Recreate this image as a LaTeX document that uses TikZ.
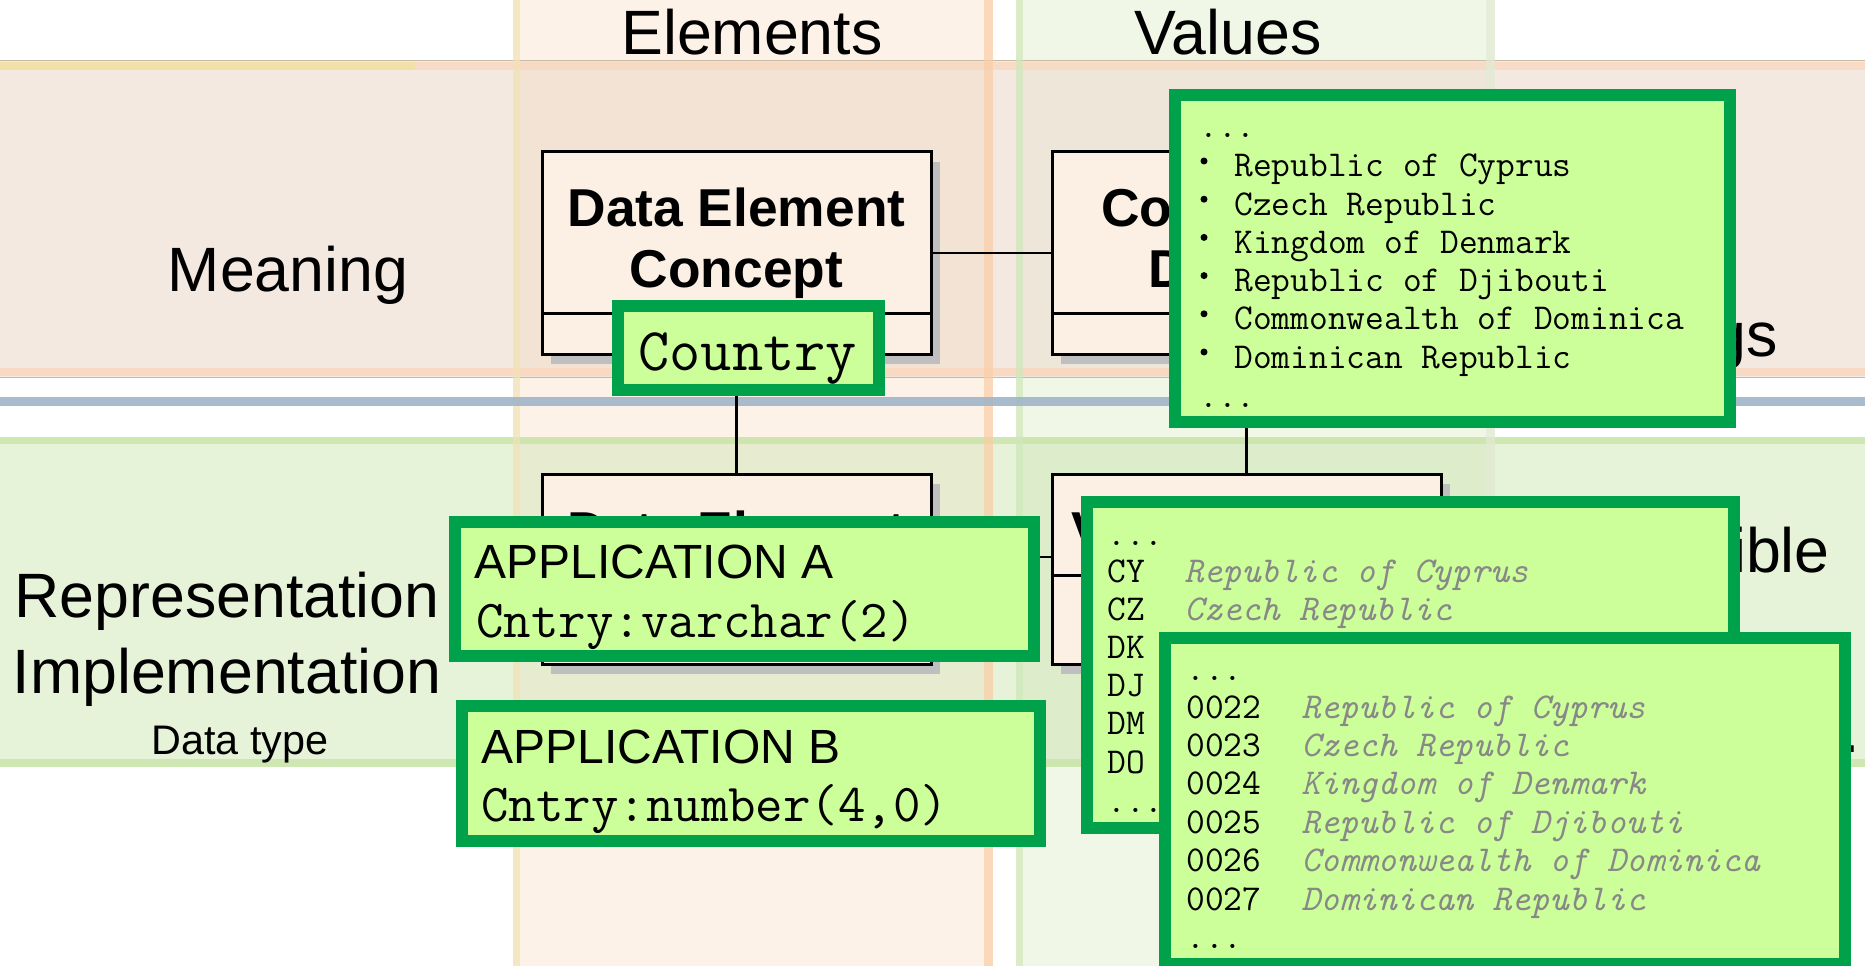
\documentclass[tikz,border=0pt]{standalone}
\usepackage{fontspec}
\setmainfont{Liberation Sans}
\usetikzlibrary{shadows}
\definecolor{meanband}{HTML}{F4E9E0}
\definecolor{repband}{HTML}{E7F3D8}
\definecolor{elemcol}{HTML}{FDF2E7}
\definecolor{valcol}{HTML}{F0F7E6}
\definecolor{elemmean}{HTML}{F2E3D5}
\definecolor{elemrep}{HTML}{E7EBD0}
\definecolor{valmean}{HTML}{EEE7D9}
\definecolor{valrep}{HTML}{DDEDCB}
\definecolor{umlfill}{HTML}{FBF0E3}
\definecolor{gborder}{HTML}{00A14B}
\definecolor{gfill}{HTML}{CCFF99}
\definecolor{shadowgray}{HTML}{BFBFBF}
\definecolor{namegray}{HTML}{888888}
\definecolor{bandline}{HTML}{C8BBA5}
\definecolor{peachstripe}{HTML}{F9D8C0}
\definecolor{yellowstripe}{HTML}{F0E2A0}
\definecolor{greenstripe}{HTML}{C9E4A9}
\definecolor{elemleft}{HTML}{F1E3B4}
\definecolor{elemright}{HTML}{FBCEA6}
\definecolor{valleft}{HTML}{D0E8BA}
\definecolor{valright}{HTML}{E2EBD6}
\definecolor{blueline}{HTML}{A0B5C9}
\begin{document}
\begin{tikzpicture}[x=0.75pt,y=-0.75pt,
  lbl/.style={inner sep=0pt, font=\fontsize{47}{56}\selectfont},
  smalllbl/.style={inner sep=0pt, font=\fontsize{31}{37}\selectfont},
  umlt/.style={inner sep=0pt, font=\fontsize{40}{48}\selectfont\bfseries},
  umlbox/.style={draw=black, line width=2.25pt, fill=umlfill, inner sep=0pt,
    minimum width=291.75pt,
    drop shadow={shadow xshift=6.75pt, shadow yshift=-7.5pt, fill=shadowgray, opacity=1}},
  conn/.style={draw=black, line width=1.6pt},
  gbox/.style={draw=gborder, fill=gfill, line width=9pt, inner sep=0pt},
  apph/.style={inner sep=0pt, anchor=base west, font=\fontsize{36}{43}\selectfont},
  appm/.style={inner sep=0pt, anchor=base west, font=\fontsize{40}{48}\ttfamily},
  ctry/.style={inner sep=0pt, anchor=base west, font=\fontsize{45.5}{54}\ttfamily},
  listt/.style={inner sep=0pt, anchor=base west, font=\fontsize{27.3}{33}\ttfamily},
  listn/.style={listt, text=namegray, font=\fontsize{27.3}{33}\ttfamily\itshape}
]
\useasboundingbox (0,0) rectangle (1865,966);
\fill[white] (0,0) rectangle (1865,966);
% bands and columns
\fill[meanband] (0,61) rectangle (1865,377);
\fill[repband] (0,437) rectangle (1865,767);
\fill[elemcol] (513,0) rectangle (993,966);
\fill[valcol] (1016,0) rectangle (1495,966);
\fill[elemmean] (513,61) rectangle (993,377);
\fill[elemrep] (513,437) rectangle (993,767);
\fill[valmean] (1016,61) rectangle (1495,377);
\fill[valrep] (1016,437) rectangle (1495,767);
% stripes
\fill[peachstripe, opacity=0.8] (0,62) rectangle (1865,70);
\fill[yellowstripe, opacity=0.8] (0,62) rectangle (415,70);
\draw[bandline, line width=0.75pt] (0,61) -- (1865,61);
\fill[peachstripe, opacity=0.9] (0,368) rectangle (1865,376);
\draw[bandline, line width=0.75pt] (0,377) -- (1865,377);
\fill[greenstripe, opacity=0.8] (0,437) rectangle (1865,444);
\fill[greenstripe, opacity=0.8] (0,759) rectangle (1865,767);
\fill[elemleft, opacity=0.7] (513,0) rectangle (520,966);
\fill[elemright, opacity=0.7] (984,0) rectangle (993,966);
\fill[valleft, opacity=0.7] (1016,0) rectangle (1023,966);
\fill[valright, opacity=0.7] (1486,0) rectangle (1495,966);
\fill[blueline, opacity=0.9] (0,397) rectangle (1865,406);
% labels
\node[lbl, anchor=base] (elements) at (752,55) {Elements};
\node[lbl, anchor=base] (values) at (1228,55) {Values};
\node[lbl, anchor=base] (meaning) at (288,291) {Meaning};
\node[lbl, anchor=base east] (gs) at (1778,356) {gs};
\node[lbl, anchor=base east] (ible) at (1830,572) {ible};
\node[lbl, anchor=base west] (dot) at (1842,752) {.};
\node[lbl, anchor=base] (repr) at (227,617) {Representation};
\node[lbl, anchor=base] (impl) at (227,693) {Implementation};
\node[smalllbl, anchor=base] (dtype) at (240,754) {Data type};
% UML boxes
\node[umlbox, minimum height=151.5pt] (dec) at (736.5,253) {};
\node[umlbox, minimum height=151.5pt] (cd) at (1246.5,253) {};
\node[umlbox, minimum height=142.5pt] (de) at (736.5,569) {};
\node[umlbox, minimum height=142.5pt] (vd) at (1246.5,569) {};
\coordinate (divtop) at (0,313);
\coordinate (divbot) at (0,575);
\draw[line width=2.25pt] (dec.west |- divtop) -- (dec.east |- divtop);
\draw[line width=2.25pt] (cd.west |- divtop) -- (cd.east |- divtop);
\draw[line width=2.25pt] (de.west |- divbot) -- (de.east |- divbot);
\draw[line width=2.25pt] (vd.west |- divbot) -- (vd.east |- divbot);
\node[umlt, anchor=base] (dect1) at (736.5,227) {Data Element};
\node[umlt, anchor=base] (dect2) at (736.5,287) {Concept};
\node[umlt, anchor=base] (cdt1) at (1246.5,227) {Conceptual};
\node[umlt, anchor=base] (cdt2) at (1246.5,287) {Domain};
\node[umlt, anchor=base] (det) at (736.5,549) {Data Element};
\node[umlt, anchor=base] (vdt) at (1246.5,549) {Value Domain};
% connectors
\draw[conn] (dec) -- (cd);
\draw[conn] (dec) -- (de);
\draw[conn] (cd) -- (vd);
\draw[conn] ([yshift=9pt]de.east) -- ([yshift=9pt]vd.west);
% green boxes
\node[gbox, minimum width=195.75pt, minimum height=63pt] (country) at (748.5,348) {};
\node[ctry] (countryt) at (638,370) {Country};
\node[gbox, minimum width=416.25pt, minimum height=245.25pt] (list) at (1452.5,258.5) {};
\node[listt] (listd1) at (1199,138) {...};
\foreach \n [count=\i] in {Republic of Cyprus, Czech Republic, Kingdom of Denmark, Republic of Djibouti, Commonwealth of Dominica, Dominican Republic}{
  \pgfmathsetmacro{\yy}{177+(\i-1)*38.2}
  \fill (1204,\yy-16) circle (3.5);
  \node[listt] (li\i) at (1234,\yy) {\n};
}
\node[listt] (listd2) at (1199,407) {...};
\node[gbox, minimum width=434.25pt, minimum height=100.5pt] (appa) at (744.5,589) {};
\node[apph] (appat) at (474,578) {APPLICATION A};
\node[appm] (appam) at (476,637) {Cntry:varchar(2)};
\node[gbox, minimum width=433.5pt, minimum height=101.25pt] (appb) at (751,773.5) {};
\node[apph] (appbt) at (481,763) {APPLICATION B};
\node[appm] (appbm) at (481,821) {Cntry:number(4,0)};
\node[gbox, minimum width=485.25pt, minimum height=244.5pt] (alpha) at (1410.5,665) {};
\node[listt] (alphad1) at (1107,545) {...};
\foreach \c/\n [count=\i] in {CY/Republic of Cyprus, CZ/Czech Republic, DK/Kingdom of Denmark, DJ/Republic of Djibouti, DM/Commonwealth of Dominica, DO/Dominican Republic}{
  \pgfmathsetmacro{\yy}{582+(\i-1)*38.2}
  \node[listt] (ac\i) at (1107,\yy) {\c};
  \node[listn] (an\i) at (1184,\yy) {\n};
}
\node[listt] (alphad2) at (1107,812) {...};
\node[gbox, minimum width=510pt, minimum height=244.5pt] (num) at (1505,801) {};
\node[listt] (numd1) at (1186,680) {...};
\foreach \c/\n [count=\i] in {0022/Republic of Cyprus, 0023/Czech Republic, 0024/Kingdom of Denmark, 0025/Republic of Djibouti, 0026/Commonwealth of Dominica, 0027/Dominican Republic}{
  \pgfmathsetmacro{\yy}{718+(\i-1)*38.4}
  \node[listt] (nc\i) at (1186,\yy) {\c};
  \node[listn] (nn\i) at (1301,\yy) {\n};
}
\node[listt] (numd2) at (1186,948) {...};
\end{tikzpicture}
\end{document}
